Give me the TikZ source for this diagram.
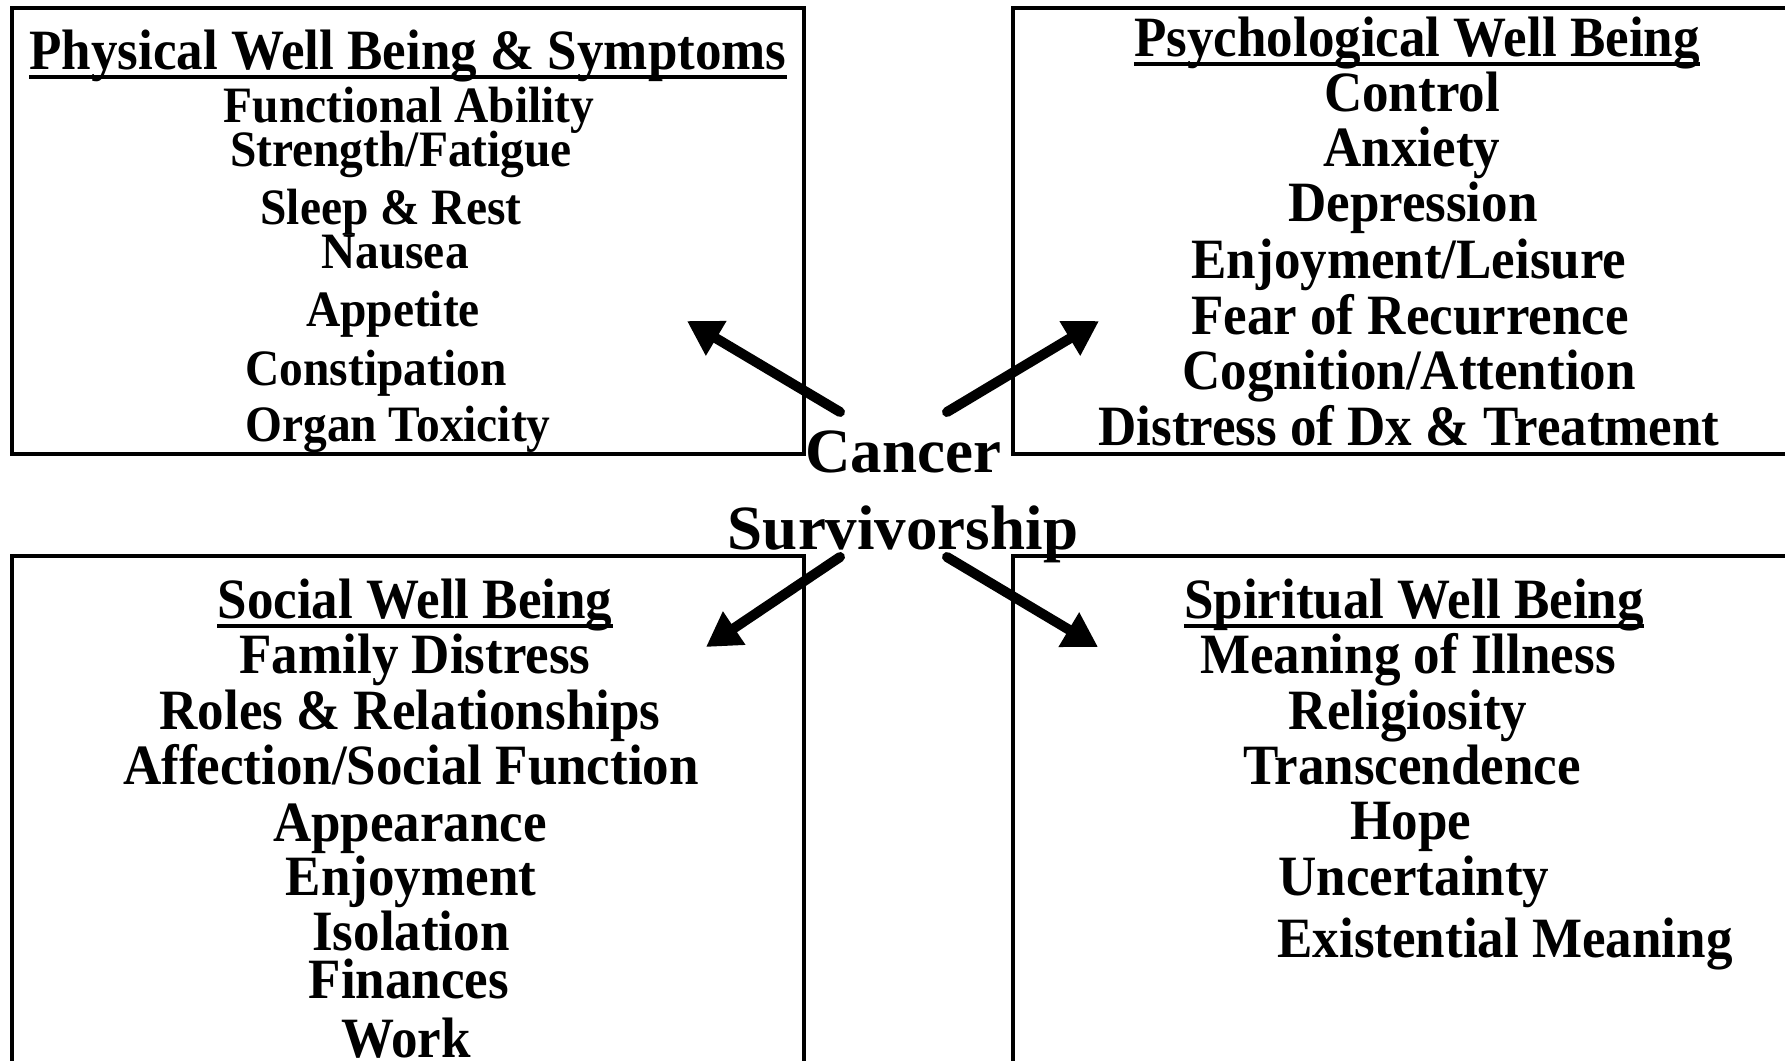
\documentclass[tikz,border=0pt]{standalone}
\usepackage{fontspec}
\setmainfont{Liberation Serif}
\newfontfamily\narrowfont[FakeStretch=0.93]{Liberation Serif}
\usetikzlibrary{arrows.meta}

\begin{document}
\begin{tikzpicture}[x=0.5pt,y=-0.5pt,
	area/.style={draw, line width=2pt},
	heading/.style={font=\narrowfont\bfseries\fontsize{28.5}{30}\selectfont, inner sep=0pt, anchor=base},
	entry/.style={heading},
	smallentry/.style={font=\narrowfont\bfseries\fontsize{25.5}{27}\selectfont, inner sep=0pt, anchor=base},
	core/.style={font=\bfseries\fontsize{31.5}{33}\selectfont, inner sep=0pt, anchor=base},
	push/.style={-{Triangle[length=17pt,width=19pt]}, line width=5pt, line cap=round}]
	\path [use as bounding box] (0,0) rectangle (1785,1061);

	% the four areas, the right and lower ones run off the page
	\draw[area] (12,8) rectangle (804,454);
	\draw[area] (1013,8) rectangle (1800,454);
	\draw[area] (12,556) rectangle (804,1080);
	\draw[area] (1013,556) rectangle (1800,1080);

	% centre
	\node[core] (cancer) at (903,472) {Cancer};
	\node[core] (surv) at (903,549) {Survivorship};

	% physical
	\node[heading] (phys) at (408,69) {Physical Well Being \& Symptoms};
	\foreach \t/\x/\y [count=\i] in {Functional Ability/409/122, {Strength/Fatigue}/401/166,
		Sleep \& Rest/391/224, Nausea/395/268, Appetite/393/326, Constipation/376/385,
		Organ Toxicity/398/441}
		\node[smallentry] (phys\i) at (\x,\y) {\t};

	% psychological
	\node[heading] (psych) at (1417,56) {Psychological Well Being};
	\foreach \t/\x/\y [count=\i] in {Control/1412/111, Anxiety/1412/166, Depression/1413/221,
		{Enjoyment/Leisure}/1409/278, Fear of Recurrence/1410/334,
		{Cognition/Attention}/1409/389, Distress of Dx \& Treatment/1409/445}
		\node[entry] (psych\i) at (\x,\y) {\t};

	% social
	\node[heading] (social) at (415,618) {Social Well Being};
	\foreach \t/\x/\y [count=\i] in {Family Distress/415/673, Roles \& Relationships/410/729,
		{Affection/Social Function}/411/784, Appearance/410/841, Enjoyment/411/895,
		Isolation/411/950, Finances/409/998, Work/406/1057}
		\node[entry] (social\i) at (\x,\y) {\t};

	% spiritual
	\node[heading] (spirit) at (1414,618) {Spiritual Well Being};
	\foreach \t/\x/\y [count=\i] in {Meaning of Illness/1408/673, Religiosity/1408/729,
		Transcendence/1412/784, Hope/1411/839, Uncertainty/1414/895,
		Existential Meaning/1505/957}
		\node[entry] (spirit\i) at (\x,\y) {\t};

	\foreach \h in {phys,psych,social,spirit}
		\draw[line width=1.7pt] ([yshift=-4pt]\h.base west) -- ([yshift=-4pt]\h.base east);

	% arrows out of the centre
	\coordinate (tailTL) at (840,412);
	\coordinate (tailTR) at (947,412);
	\coordinate (tailBL) at (840,557);
	\coordinate (tailBR) at (947,557);
	\coordinate (tipTL) at (687,321);
	\coordinate (tipTR) at (1099,321);
	\coordinate (tipBL) at (706,647);
	\coordinate (tipBR) at (1098,647);
	\draw[push] (tailTL) -- (tipTL);
	\draw[push] (tailTR) -- (tipTR);
	\draw[push] (tailBL) -- (tipBL);
	\draw[push] (tailBR) -- (tipBR);
\end{tikzpicture}
\end{document}
